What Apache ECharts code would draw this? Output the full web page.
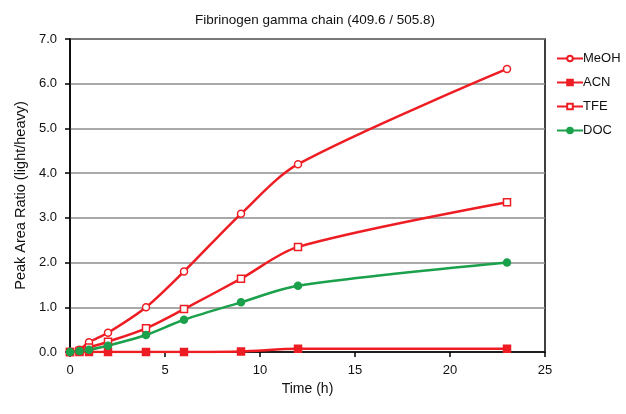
<!DOCTYPE html>
<html>
<head>
<meta charset="utf-8">
<script src="https://cdn.jsdelivr.net/npm/echarts@6/dist/echarts.min.js"></script>
<style>
  html, body { margin: 0; padding: 0; background: #fff; }
  #chart { width: 626px; height: 414px; }
</style>
</head>
<body>
<div id="chart"></div>
<script>
// Sampling times (h)
const times = [0, 0.5, 1, 2, 4, 6, 9, 12, 23];

// Peak area ratio (light/heavy) per digestion condition
const meoh = [0, 0.05, 0.22, 0.43, 1.0, 1.80, 3.09, 4.20, 6.33];
const acn  = [0, 0, 0, 0, 0, 0, 0.01, 0.07, 0.07];
const tfe  = [0, 0.03, 0.10, 0.23, 0.53, 0.96, 1.64, 2.35, 3.35];
const doc  = [0, 0.02, 0.05, 0.14, 0.38, 0.72, 1.11, 1.48, 2.00];

const RED = '#ee1d23';
const GREEN = '#1ba04b';
const FONT = 'Liberation Sans, Arial, sans-serif';

function pairs(values) {
  return times.map((t, i) => [t, values[i]]);
}

function makeSeries(name, values, symbol, color, filled) {
  return {
    name: name,
    type: 'line',
    data: pairs(values),
    smooth: 0.3,
    symbol: symbol,
    symbolSize: 7,
    showAllSymbol: true,
    lineStyle: { color: color, width: 2.5 },
    itemStyle: {
      color: filled ? color : '#ffffff',
      borderColor: color,
      borderWidth: 1.5
    },
    emphasis: { disabled: true }
  };
}

const chart = echarts.init(document.getElementById('chart'), null, { renderer: 'canvas' });

chart.setOption({
  animation: false,
  backgroundColor: '#ffffff',
  textStyle: { fontFamily: FONT },
  title: {
    text: 'Fibrinogen gamma chain (409.6 / 505.8)',
    left: 310,
    textAlign: 'center',
    top: 8,
    textStyle: { fontFamily: FONT, fontSize: 13.5, fontWeight: 'normal', color: '#111' }
  },
  legend: {
    orient: 'vertical',
    left: 551,
    top: 47,
    itemGap: 11,
    itemWidth: 26,
    itemHeight: 7,
    textStyle: { fontFamily: FONT, fontSize: 13, color: '#111', padding: [0, 0, 0, -5] },
    data: ['MeOH', 'ACN', 'TFE', 'DOC']
  },
  grid: {
    left: 70,
    right: 81,
    top: 39,
    bottom: 62,
    show: true,
    borderColor: '#000',
    borderWidth: 1.5,
    containLabel: false
  },
  xAxis: {
    type: 'value',
    min: 0,
    max: 25,
    interval: 5,
    name: 'Time (h)',
    nameLocation: 'middle',
    nameGap: 24,
    nameTextStyle: { fontFamily: FONT, fontSize: 14, color: '#111' },
    axisLine: { show: true, lineStyle: { color: '#000', width: 1.5 } },
    axisTick: { show: true, inside: false, length: 5, lineStyle: { color: '#000', width: 1.5 } },
    axisLabel: { fontFamily: FONT, fontSize: 13, color: '#111', margin: 12 },
    splitLine: { show: false }
  },
  yAxis: {
    type: 'value',
    min: 0,
    max: 7,
    interval: 1,
    name: 'Peak Area Ratio (light/heavy)',
    nameLocation: 'middle',
    nameGap: 40,
    nameTextStyle: { fontFamily: FONT, fontSize: 14.5, color: '#111' },
    axisLine: { show: true, lineStyle: { color: '#000', width: 1.5 } },
    axisTick: { show: true, inside: false, length: 5, lineStyle: { color: '#000', width: 1.5 } },
    axisLabel: {
      fontFamily: FONT, fontSize: 13, color: '#111', margin: 13,
      formatter: v => v.toFixed(1)
    },
    splitLine: { show: true, lineStyle: { color: '#8c8c8c', width: 1.5 } }
  },
  series: [
    makeSeries('MeOH', meoh, 'circle', RED, false),
    makeSeries('ACN', acn, 'rect', RED, true),
    makeSeries('TFE', tfe, 'rect', RED, false),
    makeSeries('DOC', doc, 'circle', GREEN, true)
  ]
});
</script>
</body>
</html>
